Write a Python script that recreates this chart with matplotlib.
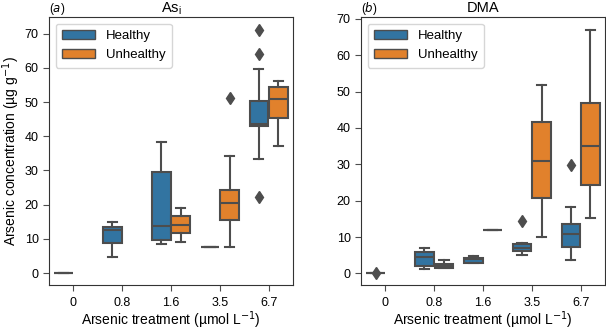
import matplotlib
matplotlib.use('Agg')
import matplotlib.pyplot as plt
from matplotlib.patches import Patch

'''箱线图：两种处理下砷浓度'''

plt.rcParams['font.family'] = ['Liberation Sans', 'DejaVu Sans']

treatments = ['0', '0.8', '1.6', '3.5', '6.7']
groups = ['Healthy', 'Unhealthy']
colors = ['#3274a1', '#e1812c']
edge = '#4d4d4d'

# 每个箱子: (whislo, q1, med, q3, whishi)，None 表示没有数据
asi_healthy = [(0.1, 0.1, 0.1, 0.1, 0.1), (4.7, 8.8, 12.5, 13.6, 14.8), (8.6, 9.7, 13.8, 29.5, 38.2),
               (7.6, 7.6, 7.6, 7.6, 7.6), (33.3, 43.1, 43.5, 50.2, 59.8)]
asi_unhealthy = [None, None, (9.1, 11.6, 14.0, 16.7, 19.1),
                 (7.7, 15.4, 20.4, 24.2, 34.1), (37.2, 45.4, 51.0, 54.4, 56.3)]
asi_fliers_h = [[], [], [], [], [71.0, 64.0, 22.2]]
asi_fliers_u = [[], [], [], [51.2], []]

dma_healthy = [(0.1, 0.1, 0.1, 0.1, 0.1), (1.3, 2.1, 4.6, 5.8, 7.0), (2.9, 2.9, 3.9, 4.3, 4.8),
               (5.1, 6.2, 7.1, 8.0, 8.3), (3.8, 7.3, 10.7, 13.5, 18.3)]
dma_unhealthy = [None, (1.5, 1.5, 2.1, 2.7, 3.7), (11.8, 11.8, 11.8, 11.8, 11.8),
                 (10.1, 20.6, 31.0, 41.5, 51.8), (15.3, 24.2, 35.1, 46.8, 66.8)]
dma_fliers_h = [[0.1], [], [], [14.4], [29.7]]
dma_fliers_u = [[], [], [], [], []]


def draw_panel(ax, healthy, unhealthy, fl_h, fl_u):
    '''画一个面板'''
    for g, (data, fl) in enumerate([(healthy, fl_h), (unhealthy, fl_u)]):
        stats, pos = [], []
        for i, s in enumerate(data):
            if s is None:
                continue
            lo, q1, med, q3, hi = s
            stats.append(dict(whislo=lo, q1=q1, med=med, q3=q3, whishi=hi, fliers=fl[i]))
            pos.append(i - 0.2 + 0.4 * g)
        ax.bxp(stats, positions=pos, widths=0.38, patch_artist=True, manage_ticks=False,
               boxprops=dict(facecolor=colors[g], edgecolor=edge, linewidth=1.5),
               medianprops=dict(color=edge, linewidth=1.5),
               whiskerprops=dict(color=edge, linewidth=1.5),
               capprops=dict(color=edge, linewidth=1.5),
               flierprops=dict(marker='d', markerfacecolor=edge, markeredgecolor=edge, markersize=6))
    ax.set_xlim(-0.5, 4.5)
    ax.set_xticks(range(len(treatments)))
    ax.set_xticklabels(treatments)
    ax.set_yticks(range(0, 80, 10))
    ax.tick_params(labelsize=9, color=edge, length=4)
    ax.tick_params(axis='x', pad=5)
    for sp in ax.spines.values():
        sp.set_color('#333333')
    ax.set_xlabel('Arsenic treatment (µmol L$^{-1}$)', fontsize=10, labelpad=0)
    handles = [Patch(facecolor=colors[i], edgecolor=edge, label=groups[i]) for i in range(2)]
    ax.legend(handles=handles, loc='upper left', fontsize=9.5, handlelength=2.5, borderpad=0.5)


fig = plt.figure(figsize=(6.06, 3.3), dpi=100)
ax1 = fig.add_axes([49 / 606, 45 / 330, 244 / 606, 268 / 330])
ax2 = fig.add_axes([361 / 606, 45 / 330, 244 / 606, 268 / 330])

draw_panel(ax1, asi_healthy, asi_unhealthy, asi_fliers_h, asi_fliers_u)
draw_panel(ax2, dma_healthy, dma_unhealthy, dma_fliers_h, dma_fliers_u)
ax1.set_ylim(-3.5, 74.9)
ax2.set_ylim(-3.2, 70.5)
ax1.set_ylabel('Arsenic concentration (µg g$^{-1}$)', fontsize=10, labelpad=2)

ax1.set_title('As$_\\mathregular{i}$', fontsize=10.5, pad=3)
ax2.set_title('DMA', fontsize=10.5, pad=3)
ax1.set_title('($\\it{a}$)', loc='left', fontsize=8.5, pad=3)
ax2.set_title('($\\it{b}$)', loc='left', fontsize=8.5, pad=3)

fig.savefig('out.png', dpi=100)
